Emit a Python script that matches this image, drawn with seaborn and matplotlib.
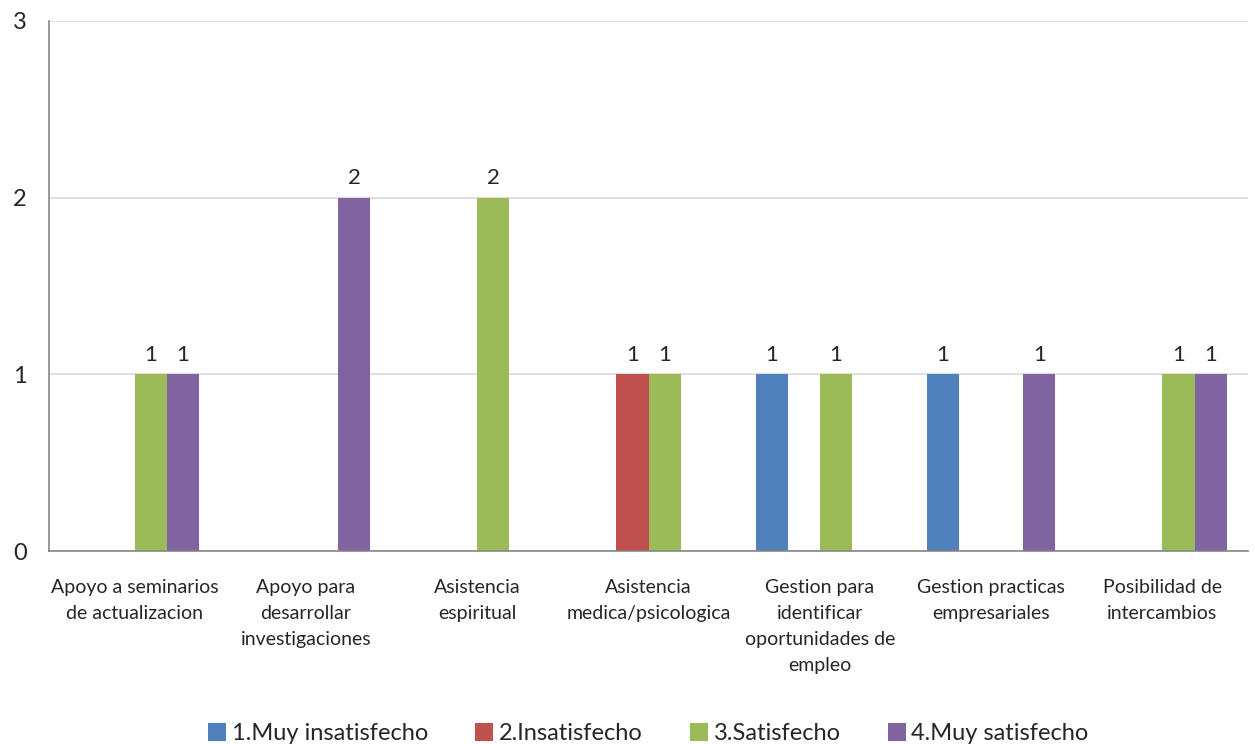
import matplotlib
matplotlib.use("Agg")
import matplotlib.pyplot as plt
from matplotlib.ticker import FixedLocator
import seaborn as sns
import pandas as pd

# Datos
categorias = [
    "Apoyo a seminarios\nde actualizacion",
    "Apoyo para\ndesarrollar\ninvestigaciones",
    "Asistencia\nespiritual",
    "Asistencia\nmedica/psicologica",
    "Gestion para\nidentificar\noportunidades de\nempleo",
    "Gestion practicas\nempresariales",
    "Posibilidad de\nintercambios",
]
series = ["1.Muy insatisfecho", "2.Insatisfecho", "3.Satisfecho", "4.Muy satisfecho"]
muy_insatisfecho = [0, 0, 0, 0, 1, 1, 0]
insatisfecho = [0, 0, 0, 1, 0, 0, 0]
satisfecho = [1, 0, 2, 1, 1, 0, 1]
muy_satisfecho = [1, 2, 0, 0, 0, 1, 1]
colores = ["#4F81BD", "#C0504D", "#9BBB59", "#8064A2"]

valores = [muy_insatisfecho, insatisfecho, satisfecho, muy_satisfecho]
df = pd.DataFrame({
    "Categoria": categorias * len(series),
    "Serie": [s for s in series for _ in categorias],
    "Valor": [v for vals in valores for v in vals],
})

sns.set_style("white")
plt.rcParams["font.family"] = ["Lato", "DejaVu Sans"]

fig = plt.figure(figsize=(12.55, 7.44), dpi=100)
ax = fig.add_axes([0.039, 0.2594, 0.9555, 0.7124])

sns.barplot(data=df, x="Categoria", y="Valor", hue="Serie", order=categorias,
            hue_order=series, palette=colores, width=0.75, saturation=1,
            linewidth=0, ax=ax)

# Etiquetas de datos (sin ceros)
for cont in ax.containers:
    etiquetas = [f"{int(b.get_height())}" if b.get_height() > 0 else "" for b in cont]
    ax.bar_label(cont, labels=etiquetas, padding=7, fontsize=16)

ax.set_ylim(0, 3)
ax.set_xlim(-0.5, len(categorias) - 0.5)
ax.set_yticks([0, 1, 2, 3])
ax.yaxis.grid(True, color="#D9D9D9", linewidth=1.2)
ax.set_axisbelow(True)

ax.set_xlabel("")
ax.set_ylabel("")
ax.set_xticks(range(len(categorias)), categorias, linespacing=1.65)
ax.tick_params(axis="y", labelsize=17, length=6, color="#868686", width=1.2, pad=10)
ax.tick_params(axis="x", which="major", length=0, labelsize=14, pad=20)
ax.xaxis.set_minor_locator(FixedLocator([i - 0.5 for i in range(len(categorias) + 1)]))
ax.tick_params(axis="x", which="minor", length=6, color="#868686", width=1.2)

for lado in ["top", "right"]:
    ax.spines[lado].set_visible(False)
for lado in ["left", "bottom"]:
    ax.spines[lado].set_color("#868686")
    ax.spines[lado].set_linewidth(1.2)

handles, labels = ax.get_legend_handles_labels()
ax.legend(handles, labels, loc="upper center", bbox_to_anchor=(0.5, -0.285),
          ncol=4, frameon=False, fontsize=17, handlelength=0.75, handleheight=0.75,
          handletextpad=0.25, columnspacing=2.0)

fig.savefig("out.png", dpi=100)
